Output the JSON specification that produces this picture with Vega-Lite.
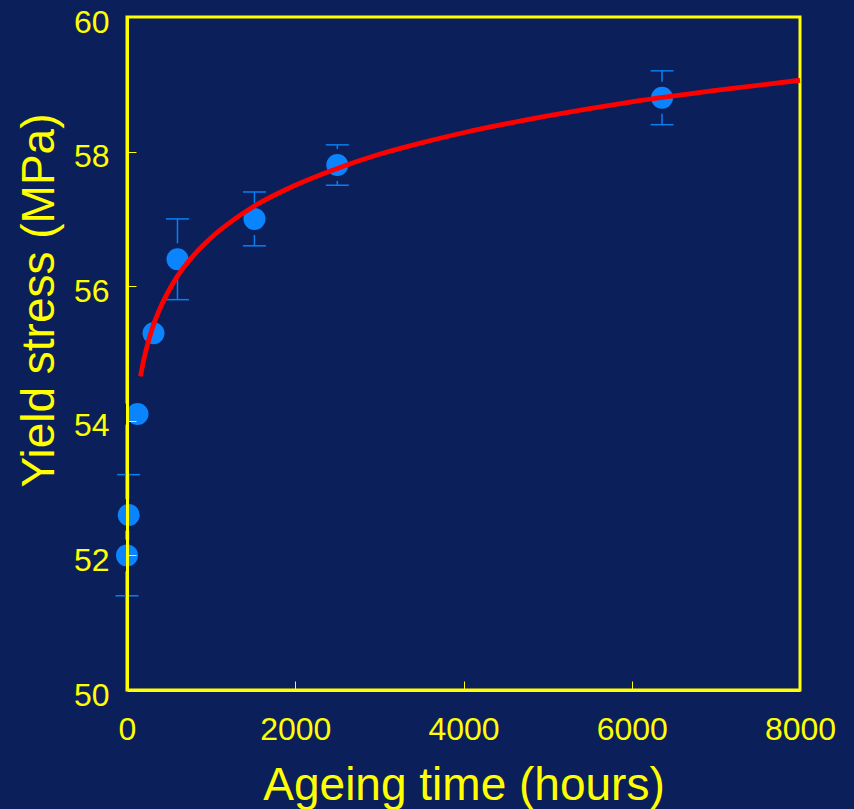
{
  "$schema": "https://vega.github.io/schema/vega-lite/v6.json",
  "width": 673,
  "height": 673,
  "autosize": "none",
  "padding": {"left": 127, "top": 17, "right": 54, "bottom": 119},
  "background": "#0b1f5b",
  "config": {
    "view": {"stroke": "#ffff00", "strokeWidth": 3},
    "numberFormat": "d",
    "axis": {
      "grid": false,
      "domain": true,
      "domainColor": "#ffff00",
      "domainWidth": 3,
      "ticks": true,
      "tickColor": "#ffff00",
      "tickWidth": 1,
      "tickSize": -9,
      "labelColor": "#ffff00",
      "labelFont": "Liberation Sans",
      "labelFontSize": 32,
      "titleColor": "#ffff00",
      "titleFont": "Liberation Sans",
      "titleFontSize": 46,
      "titleFontWeight": "normal"
    },
    "axisX": {"tickCount": 4, "labelPadding": 33, "titleBaseline": "alphabetic", "titleY": 109, "labelFlush": false},
    "axisY": {"tickCount": 5, "labelPadding": 27, "labelOffset": 5, "titleBaseline": "alphabetic", "titleAngle": -90, "titleX": -74, "titleY": 283, "labelFlush": false}
  },
  "datasets": {
    "pts": [
      {"time": 0, "stress": 52.0, "lo": 51.4, "hi": 52.6},
      {"time": 20, "stress": 52.6, "lo": 52.0, "hi": 53.2},
      {"time": 125, "stress": 54.1, "lo": 54.1, "hi": 54.1},
      {"time": 315, "stress": 55.3, "lo": 55.3, "hi": 55.3},
      {"time": 600, "stress": 56.4, "lo": 55.8, "hi": 57.0},
      {"time": 1515, "stress": 57.0, "lo": 56.6, "hi": 57.4},
      {"time": 2500, "stress": 57.8, "lo": 57.5, "hi": 58.1},
      {"time": 6360, "stress": 58.8, "lo": 58.4, "hi": 59.2}
    ],
    "curve": [
      {"time": 160, "stress": 54.66},
      {"time": 200, "stress": 54.91},
      {"time": 250, "stress": 55.16},
      {"time": 300, "stress": 55.37},
      {"time": 400, "stress": 55.69},
      {"time": 500, "stress": 55.94},
      {"time": 600, "stress": 56.15},
      {"time": 800, "stress": 56.47},
      {"time": 1000, "stress": 56.72},
      {"time": 1250, "stress": 56.97},
      {"time": 1500, "stress": 57.18},
      {"time": 2000, "stress": 57.50},
      {"time": 2500, "stress": 57.75},
      {"time": 3000, "stress": 57.96},
      {"time": 3500, "stress": 58.13},
      {"time": 4000, "stress": 58.28},
      {"time": 5000, "stress": 58.53},
      {"time": 6000, "stress": 58.74},
      {"time": 7000, "stress": 58.91},
      {"time": 8000, "stress": 59.06}
    ]
  },
  "layer": [
    {
      "data": {"name": "pts"},
      "mark": {"type": "rule", "color": "#0a7ff0", "strokeWidth": 1.5},
      "encoding": {
        "x": {"field": "time", "type": "quantitative", "scale": {"domain": [0, 8000], "nice": false, "zero": false}, "title": "Ageing time (hours)", "axis": {"zindex": 3}},
        "y": {"field": "lo", "type": "quantitative", "scale": {"domain": [50, 60], "nice": false, "zero": false}, "title": "Yield stress (MPa)", "axis": {"zindex": 3}},
        "y2": {"field": "hi"}
      }
    },
    {
      "data": {"name": "pts"},
      "mark": {"type": "tick", "orient": "horizontal", "size": 23, "thickness": 1.5, "color": "#0a7ff0", "opacity": 1},
      "encoding": {
        "x": {"field": "time", "type": "quantitative", "title": "Ageing time (hours)"},
        "y": {"field": "lo", "type": "quantitative", "title": "Yield stress (MPa)"}
      }
    },
    {
      "data": {"name": "pts"},
      "mark": {"type": "tick", "orient": "horizontal", "size": 23, "thickness": 1.5, "color": "#0a7ff0", "opacity": 1},
      "encoding": {
        "x": {"field": "time", "type": "quantitative", "title": "Ageing time (hours)"},
        "y": {"field": "hi", "type": "quantitative", "title": "Yield stress (MPa)"}
      }
    },
    {
      "data": {"name": "pts"},
      "mark": {"type": "point", "filled": true, "shape": "circle", "size": 1024, "color": "#0b1f5b", "opacity": 1},
      "encoding": {
        "x": {"field": "time", "type": "quantitative", "title": "Ageing time (hours)"},
        "y": {"field": "stress", "type": "quantitative", "title": "Yield stress (MPa)"}
      }
    },
    {
      "data": {"name": "pts"},
      "mark": {"type": "point", "filled": true, "shape": "circle", "size": 484, "color": "#0a84ff", "opacity": 1},
      "encoding": {
        "x": {"field": "time", "type": "quantitative", "title": "Ageing time (hours)"},
        "y": {"field": "stress", "type": "quantitative", "title": "Yield stress (MPa)"}
      }
    },
    {
      "data": {"name": "curve"},
      "mark": {"type": "line", "color": "#ff0000", "strokeWidth": 4.8, "interpolate": "monotone"},
      "encoding": {
        "x": {"field": "time", "type": "quantitative", "title": "Ageing time (hours)"},
        "y": {"field": "stress", "type": "quantitative", "title": "Yield stress (MPa)"}
      }
    }
  ]
}
